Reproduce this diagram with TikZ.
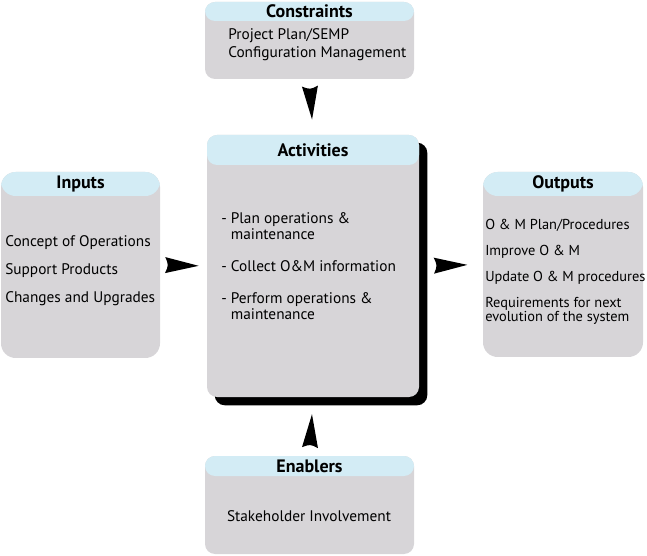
\documentclass[tikz,border=0pt]{standalone}
\usepackage{fontspec}
\setmainfont{PT Sans}
\usetikzlibrary{backgrounds}
\definecolor{boxgray}{RGB}{215,213,216}
\definecolor{headblue}{RGB}{211,236,245}
\tikzset{
	box/.style = {fill=boxgray, rounded corners=7.5pt, inner sep=0pt},
	head/.style = {path picture={\fill[headblue]
		(path picture bounding box.north west) rectangle
		([yshift=-#1]path picture bounding box.north east);}},
	title/.style = {font=\fontsize{13.5}{15}\selectfont\bfseries, inner sep=0pt, anchor=north},
	body/.style = {font=\fontsize{11.5}{12.6}\selectfont, align=left, inner sep=0pt, anchor=west},
	arrowhd/.pic = {\fill (-16.5,-8) .. controls (-13,0) .. (-16.5,8) -- (17,0) -- cycle;}
}
\begin{document}
\begin{tikzpicture}[x=0.75pt, y=-0.75pt]
		\useasboundingbox (0,0) rectangle (647,556);
		\path (309.5, 40.5) node (Cons)
			[box, head=14.25pt, minimum width=156.75pt, minimum height=57.75pt] {};
		\path (313, 266) node (Act)
			[box, head=22.5pt, minimum width=159pt, minimum height=196.5pt] {};
		\path (80.5, 265) node (Inp)
			[box, head=18pt, rounded corners=11pt, minimum width=119.25pt, minimum height=139.5pt] {};
		\path (563, 264.5) node (Out)
			[box, head=18pt, rounded corners=11pt, minimum width=120pt, minimum height=138.75pt] {};
		\path (309.5, 505) node (Ena)
			[box, head=15pt, minimum width=156.75pt, minimum height=73.5pt] {};
		\begin{scope}[on background layer]
			\fill[rounded corners=7.5pt] ([shift={(8,8)}]Act.north west) rectangle ([shift={(8,8)}]Act.south east);
		\end{scope}

		\path (Cons.north) node (ConsT) [title, minimum height=14.25pt] {Constraints};
		\path (Act.north)  node (ActT)  [title, minimum height=22.5pt] {Activities};
		\path (Inp.north)  node (InpT)  [title, minimum height=18pt] {Inputs};
		\path (Out.north)  node (OutT)  [title, minimum height=18pt] {Outputs};
		\path (Ena.north)  node (EnaT)  [title, minimum height=15pt] {Enablers};

		\path (228, 45) node (ConsB) [body, font=\fontsize{11.5}{13.5}\selectfont]
			{Project Plan/SEMP\\Configuration Management};
		\path (221, 266) node (ActB) [body, font=\fontsize{11.5}{12}\selectfont]
			{- Plan operations \&\\\hphantom{- }maintenance\\[12pt]
			 - Collect O\&M information\\[12pt]
			 - Perform operations \&\\\hphantom{- }maintenance};
		\path (5, 271) node (InpB) [body]
			{Concept of Operations\\[8.4pt]Support Products\\[8.4pt]Changes and Upgrades};
		\path (485, 271.5) node (OutB) [body, font=\fontsize{10.8}{12.6}\selectfont]
			{O \& M Plan/Procedures\\[6.9pt]Improve O \& M\\[6.9pt]Update O \& M procedures\\[6.9pt]
			 Requirements for next\\[-2.1pt]evolution of the system};
		\path (309, 516) node (EnaB) [body, anchor=center] {Stakeholder Involvement};

		\path (Cons.south) -- (Act.north) pic[pos=0.42, sloped, allow upside down] {arrowhd};
		\path (Inp.east)   -- (Act.west)  pic[pos=0.46, sloped] {arrowhd};
		\path (Act.east)   -- (Out.west)  pic[pos=0.49, sloped] {arrowhd};
		\path (Ena.north)  -- (Act.south) pic[pos=0.42, sloped] {arrowhd};
	\end{tikzpicture}
\end{document}
